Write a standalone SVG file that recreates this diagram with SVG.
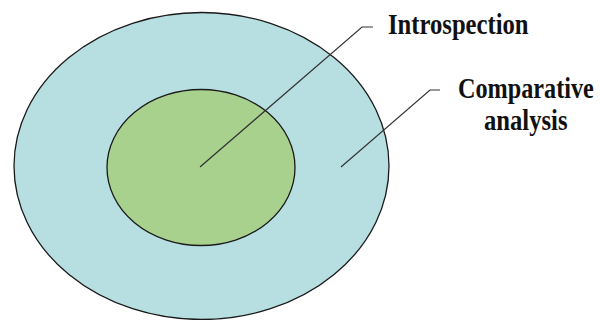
<svg xmlns="http://www.w3.org/2000/svg" width="600" height="320" viewBox="0 0 600 320">
  <style>
    .ring { stroke: #1a1a1a; stroke-width: 1.3; }
    .lead { fill: none; stroke: #333333; stroke-width: 1.2; }
    .lbl { font-family: "Liberation Serif", "Times New Roman", serif; font-weight: bold; font-size: 28.5px; fill: #111111; }
  </style>
  <rect width="600" height="320" fill="#ffffff"/>
  <g id="comparative-analysis">
    <ellipse class="ring" cx="201.5" cy="166" rx="187.5" ry="153.5" fill="#b7dee1"/>
  </g>
  <g id="introspection">
    <ellipse class="ring" cx="201" cy="167.5" rx="94" ry="78" fill="#a9d18e"/>
  </g>
  <g id="connectors">
    <polyline class="lead" points="200,167 362,27 373,27"/>
    <polyline class="lead" points="341,167 430,90 440,90"/>
  </g>
  <g id="labels">
    <text class="lbl" transform="translate(388,34) scale(0.865,1)">Introspection</text>
    <text class="lbl" transform="translate(458,98) scale(0.85,1)">Comparative</text>
    <text class="lbl" transform="translate(484,130) scale(0.865,1)">analysis</text>
  </g>
</svg>
